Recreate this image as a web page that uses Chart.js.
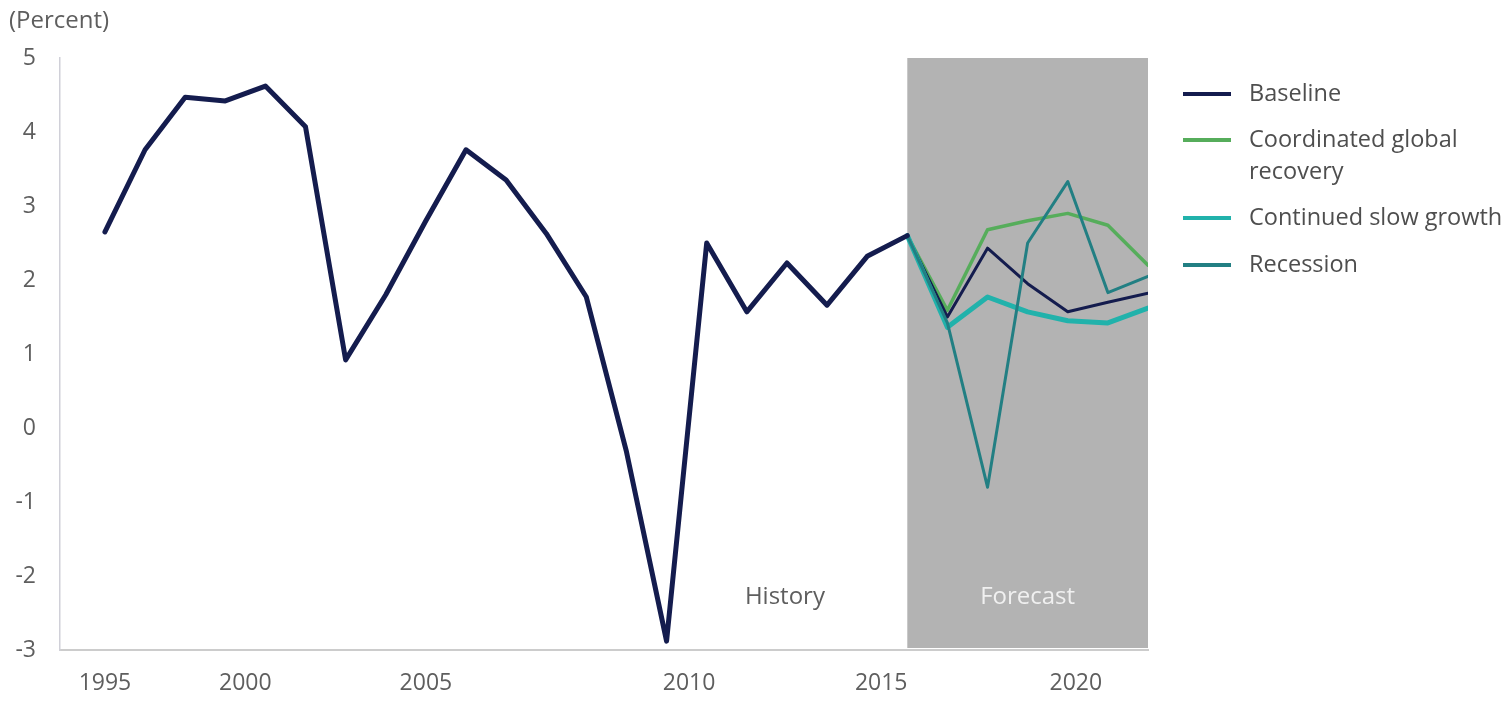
<!DOCTYPE html>
<html>
<head>
<meta charset="utf-8">
<script src="https://cdn.jsdelivr.net/npm/chart.js@4.4.1/dist/chart.umd.min.js"></script>
<style>
  html, body { margin: 0; padding: 0; background: #ffffff; }
  #wrap { position: relative; width: 1512px; height: 701px; }
</style>
</head>
<body>
<div id="wrap"><canvas id="c" width="1512" height="701"></canvas></div>
<script>
// ---- Data ----
const historyYears = [1995,1996,1997,1998,1999,2000,2001,2002,2003,2004,2005,2006,2007,2008,2009,2010,2011,2012,2013,2014,2015];
const baselineHistory = [2.65,3.76,4.47,4.42,4.62,4.07,0.92,1.8,2.8,3.76,3.35,2.63,1.77,-0.32,-2.88,2.5,1.57,2.23,1.66,2.32,2.6];

const forecastYears = [2015,2016,2017,2018,2019,2020,2021];
const baselineForecast = [2.6,1.5,2.43,1.95,1.57,1.7,1.82];
const coordinatedRecovery = [2.6,1.59,2.68,2.8,2.9,2.74,2.2];
const continuedSlowGrowth = [2.6,1.36,1.77,1.57,1.45,1.42,1.62];
const recession = [2.6,1.42,-0.8,2.5,3.33,1.83,2.05];

const xTickPositions = [1995, 1998.5, 2003, 2009.56, 2014.35, 2019.2];
const xTickLabels = ['1995','2000','2005','2010','2015','2020'];

const seriesNames = ['Baseline', ['Coordinated global', 'recovery'], 'Continued slow growth', 'Recession'];
const colors = { baseline: '#141c4e', coordinated: '#56ad5b', slow: '#21b2ab', recession: '#227f83' };

function pts(xs, ys) { return xs.map((x, i) => ({ x: x, y: ys[i] })); }

const FONT = '"Open Sans", "Noto Sans", sans-serif';
const TEXT = '#5e5e5e';

const decorPlugin = {
  id: 'decor',
  beforeDatasetsDraw(chart) {
    const { ctx, chartArea, scales } = chart;
    const x0 = scales.x.getPixelForValue(forecastYears[0]);
    const x1 = scales.x.getPixelForValue(forecastYears[forecastYears.length - 1]);
    ctx.save();
    ctx.fillStyle = '#b3b3b3';
    ctx.fillRect(x0, chartArea.top, x1 - x0, chartArea.bottom - chartArea.top - 2);
    ctx.font = '24px ' + FONT;
    ctx.textAlign = 'center';
    ctx.textBaseline = 'middle';
    ctx.fillStyle = TEXT;
    ctx.fillText('History', scales.x.getPixelForValue(2011.95), scales.y.getPixelForValue(-2.28));
    ctx.fillStyle = '#f0f0f0';
    ctx.fillText('Forecast', (x0 + x1) / 2, scales.y.getPixelForValue(-2.28));
    ctx.restore();
  },
  afterDraw(chart) {
    const { ctx } = chart;
    ctx.save();
    // y-axis unit label
    ctx.font = '24px ' + FONT;
    ctx.fillStyle = TEXT;
    ctx.textAlign = 'left';
    ctx.textBaseline = 'middle';
    ctx.fillText('(Percent)', 9, 21);
    // legend
    const items = [
      { c: colors.baseline, t: seriesNames[0], y: 94 },
      { c: colors.coordinated, t: seriesNames[1], y: 140 },
      { c: colors.slow, t: seriesNames[2], y: 218 },
      { c: colors.recession, t: seriesNames[3], y: 265 }
    ];
    ctx.font = '23.5px ' + FONT;
    items.forEach(it => {
      ctx.strokeStyle = it.c;
      ctx.lineWidth = 4;
      ctx.beginPath();
      ctx.moveTo(1183, it.y);
      ctx.lineTo(1231, it.y);
      ctx.stroke();
      ctx.fillStyle = '#4e4e4e';
      const lines = Array.isArray(it.t) ? it.t : [it.t];
      lines.forEach((ln, k) => ctx.fillText(ln, 1249, it.y + k * 32));
    });
    ctx.restore();
  }
};

new Chart(document.getElementById('c'), {
  type: 'line',
  data: {
    datasets: [
      { label: 'Baseline', data: pts(historyYears, baselineHistory), borderColor: colors.baseline, borderWidth: 5, order: 1 },
      { label: 'Recession', data: pts(forecastYears, recession), borderColor: colors.recession, borderWidth: 3, order: 2 },
      { label: 'Continued slow growth', data: pts(forecastYears, continuedSlowGrowth), borderColor: colors.slow, borderWidth: 5, order: 3 },
      { label: 'Baseline forecast', data: pts(forecastYears, baselineForecast), borderColor: colors.baseline, borderWidth: 3, order: 4 },
      { label: 'Coordinated global recovery', data: pts(forecastYears, coordinatedRecovery), borderColor: colors.coordinated, borderWidth: 3.5, order: 5 }
    ]
  },
  options: {
    responsive: false,
    animation: false,
    devicePixelRatio: 1,
    layout: { padding: { left: 0, right: 364, top: 58, bottom: 0 } },
    elements: {
      point: { radius: 0, hoverRadius: 0 },
      line: { tension: 0, fill: false, borderJoinStyle: 'round', borderCapStyle: 'round' }
    },
    plugins: { legend: { display: false }, tooltip: { enabled: false }, title: { display: false } },
    scales: {
      x: {
        type: 'linear',
        min: 1993.88,
        max: 2021,
        afterFit(scale) { scale.height = 51; },
        afterBuildTicks(scale) { scale.ticks = xTickPositions.map(v => ({ value: v })); },
        grid: { display: false, drawTicks: false },
        border: { display: true, color: '#cccccc', width: 2 },
        ticks: {
          autoSkip: false,
          maxRotation: 0,
          padding: 20,
          color: TEXT,
          font: { family: FONT, size: 23 },
          callback: (v, i) => xTickLabels[i]
        }
      },
      y: {
        min: -3,
        max: 5,
        afterFit(scale) { scale.width = 60; },
        grid: { display: false, drawTicks: false },
        border: { display: true, color: '#d0d0d8', width: 1.5 },
        ticks: {
          stepSize: 1,
          padding: 24,
          color: TEXT,
          font: { family: FONT, size: 23 }
        }
      }
    }
  },
  plugins: [decorPlugin]
});
</script>
</body>
</html>
